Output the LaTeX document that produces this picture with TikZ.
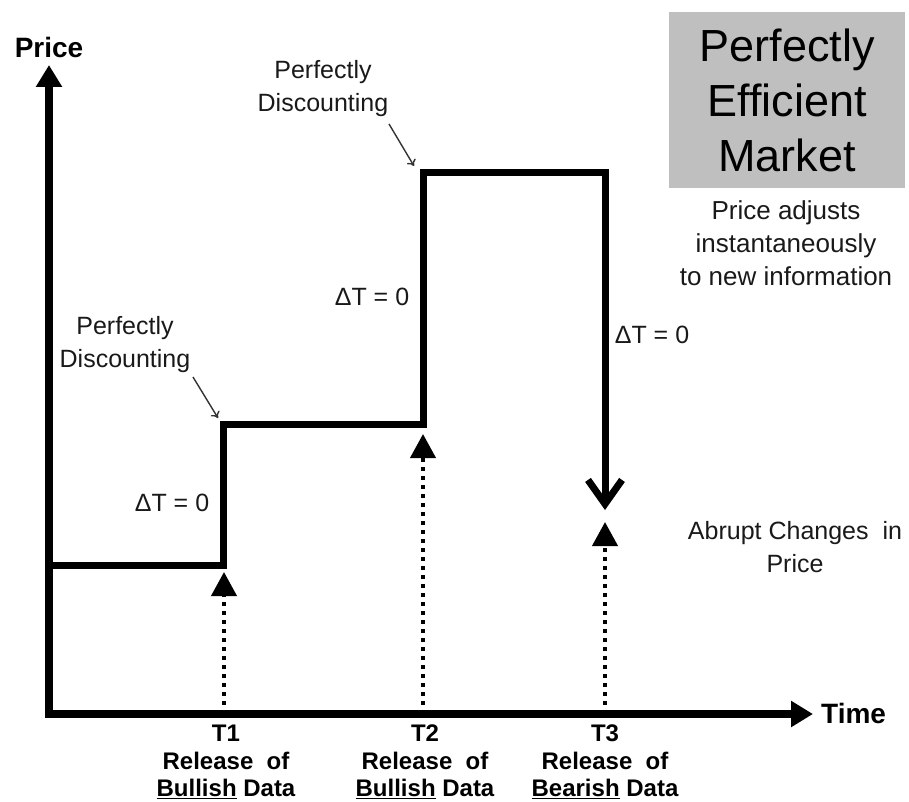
\documentclass[tikz,border=0pt]{standalone}
\usepackage{fontspec}
\setmainfont{Liberation Sans}
\usetikzlibrary{arrows.meta}
\begin{document}
\begin{tikzpicture}[x=1pt,y=-1pt,
  axis/.style={line width=8pt,line cap=rect,-{Triangle[length=22pt,width=25pt]}},
  stepline/.style={line width=7pt,line join=miter,-{Straight Barb[length=24pt,width=34pt]}},
  release/.style={line width=4pt,dash pattern=on 4pt off 5pt,-{Triangle[length=24pt,width=25pt]}},
  pointer/.style={line width=1.4pt,black!80,-{To[length=6pt,width=10pt]}},
  plain/.style={inner sep=0pt,align=center,text=black!90,font=\fontsize{25}{33}\selectfont},
  axislabel/.style={inner sep=0pt,font=\fontsize{28}{32}\selectfont\bfseries},
  tlabel/.style={inner sep=0pt,align=center,font=\fontsize{24}{27.5}\selectfont\bfseries},
  titlebox/.style={fill=black!25,minimum width=236pt,minimum height=176pt,inner sep=0pt,align=center,
    font=\fontsize{45}{55}\selectfont}
]
\useasboundingbox (0,0) rectangle (909,802);

% axes
\coordinate (O) at (49,714);
\coordinate (ytip) at (49,65);
\coordinate (xtip) at (813,714);
\draw[axis] (O) -- (ytip);
\draw[axis] (O) -- (xtip);
\node[axislabel] (price) at (49,47) {Price};
\node[axislabel,anchor=west] (time) at (821,713) {Time};

% price path
\coordinate (s0) at (49,565);
\coordinate (s1) at (223,565);
\coordinate (s2) at (223,424);
\coordinate (s3) at (423,424);
\coordinate (s4) at (423,173);
\coordinate (s5) at (605,173);
\coordinate (s6) at (605,510);
\draw[stepline] (s0) -- (s1) -- (s2) -- (s3) -- (s4) -- (s5) -- (s6);

% data releases
\coordinate (r1) at (224,714);
\coordinate (r2) at (423,714);
\coordinate (r3) at (605,714);
\coordinate (h1) at (224,572);
\coordinate (h2) at (423,434);
\coordinate (h3) at (605,522);
\draw[release] (r1) -- (h1);
\draw[release] (r2) -- (h2);
\draw[release] (r3) -- (h3);

\node[tlabel] (t1) at (226,762) {T1\\Release\ \ of\\\underline{Bullish} Data};
\node[tlabel] (t2) at (425,762) {T2\\Release\ \ of\\\underline{Bullish} Data};
\node[tlabel] (t3) at (605,762) {T3\\Release\ \ of\\\underline{Bearish} Data};

% delta-t labels
\node[plain] (dt1) at (172,503) {ΔT = 0};
\node[plain] (dt2) at (372,297) {ΔT = 0};
\node[plain] (dt3) at (652,335) {ΔT = 0};

% discounting notes
\node[plain] (pd1) at (323,89) {Perfectly\\Discounting};
\coordinate (pd1tail) at (389,124);
\coordinate (pd1tip) at (414,166);
\draw[pointer] (pd1tail) -- (pd1tip);
\node[plain] (pd2) at (125,345) {Perfectly\\Discounting};
\coordinate (pd2tail) at (193,377);
\coordinate (pd2tip) at (218,418);
\draw[pointer] (pd2tail) -- (pd2tip);

% title and notes
\node[titlebox] (title) at (787,100) {Perfectly\\Efficient\\Market};
\node[plain,font=\fontsize{26}{33}\selectfont] (adjust) at (786,243) {Price adjusts\\instantaneously\\to new information};
\node[plain] (abrupt) at (795,547) {Abrupt Changes\ \ in\\Price};
\end{tikzpicture}
\end{document}
